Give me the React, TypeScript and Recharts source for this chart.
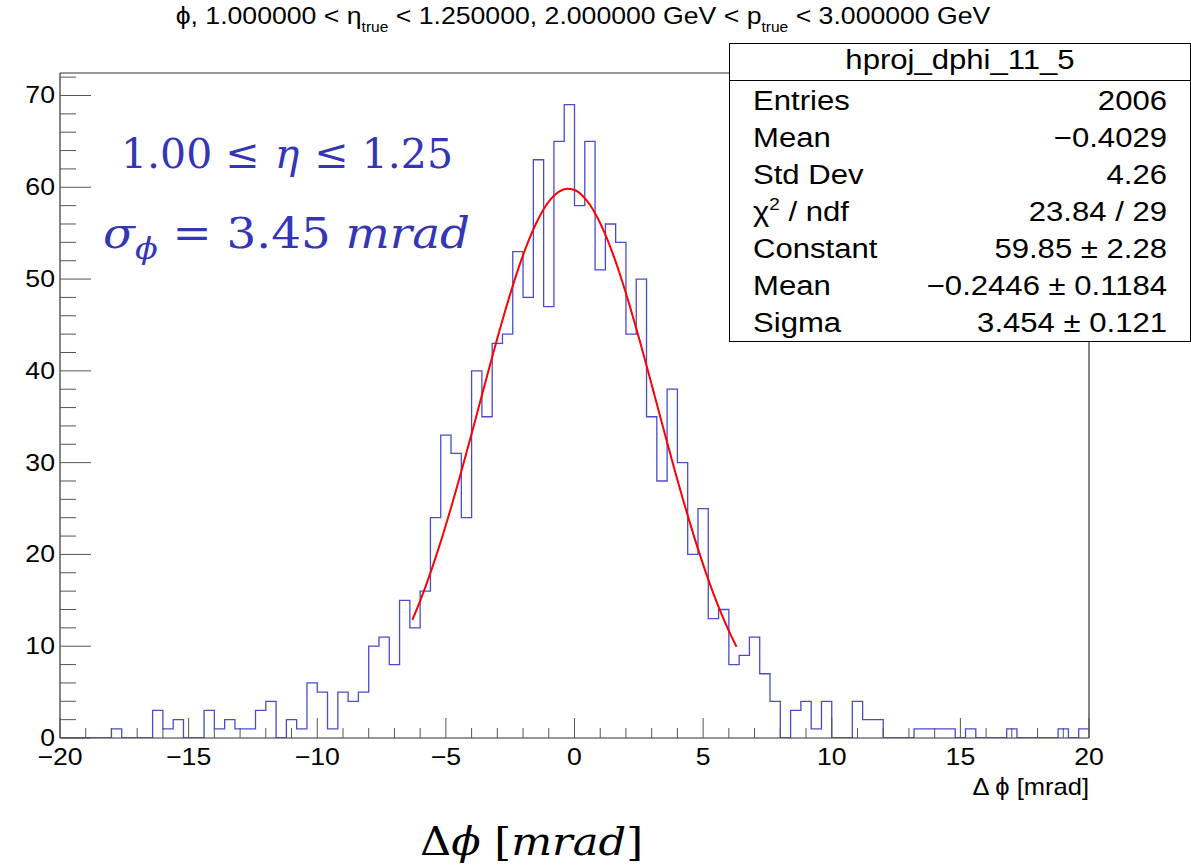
import React from 'react';
import { ComposedChart, Line, XAxis, YAxis, ReferenceLine } from 'recharts';

// ---------- data ----------
const HIST_LOW = -20;
const HIST_HIGH = 20;
const BIN_WIDTH = 0.4;
const COUNTS = [
  0, 0, 0, 0, 0, 1, 0, 0, 0, 3,
  1, 2, 0, 0, 3, 1, 2, 1, 1, 3,
  4, 0, 2, 1, 6, 5, 1, 5, 4, 5,
  10, 11, 8, 15, 12, 16, 24, 33, 31, 24,
  40, 35, 43, 44, 53, 48, 63, 47, 65, 69,
  58, 65, 51, 56, 54, 44, 50, 35, 28, 38,
  30, 20, 25, 13, 14, 8, 9, 11, 7, 4,
  0, 3, 4, 1, 4, 0, 0, 4, 2, 2,
  0, 0, 0, 1, 1, 1, 1, 0, 1, 0,
  0, 0, 1, 0, 0, 0, 0, 1, 0, 1,
];
const FIT_X = [
  -6.3, -6.0, -5.7, -5.4, -5.1, -4.8, -4.5, -4.2, -3.9, -3.6, -3.3, -3.0, -2.7, -2.4, -2.1,
  -1.8, -1.5, -1.2, -0.9, -0.6, -0.3, 0.0, 0.3, 0.6, 0.9, 1.2, 1.5, 1.8, 2.1, 2.4, 2.7,
  3.0, 3.3, 3.6, 3.9, 4.2, 4.5, 4.8, 5.1, 5.4, 5.7, 6.0, 6.3,
];
const FIT_Y = [
  12.87, 14.93, 17.2, 19.65, 22.28, 25.08, 28.02, 31.07, 34.19, 37.34, 40.47, 43.54, 46.49, 49.26, 51.81,
  54.08, 56.03, 57.61, 58.79, 59.53, 59.84, 59.7, 59.11, 58.09, 56.65, 54.84, 52.68, 50.23, 47.53, 44.64, 41.61,
  38.5, 35.35, 32.21, 29.13, 26.15, 23.3, 20.6, 18.08, 15.74, 13.61, 11.68, 9.94,
];
const X_TICKS = [
  -20, -19, -18, -17, -16, -15, -14, -13, -12, -11, -10, -9, -8, -7, -6, -5, -4, -3, -2, -1,
  0, 1, 2, 3, 4, 5, 6, 7, 8, 9, 10, 11, 12, 13, 14, 15, 16, 17, 18, 19, 20,
];
const X_LABELS = [-20, -15, -10, -5, 0, 5, 10, 15, 20];
const Y_TICKS = [0, 2, 4, 6, 8, 10, 12, 14, 16, 18, 20, 22, 24, 26, 28, 30, 32, 34, 36, 38, 40, 42, 44, 46, 48, 50, 52, 54, 56, 58, 60, 62, 64, 66, 68, 70, 72];
const Y_LABELS = [0, 10, 20, 30, 40, 50, 60, 70];
const Y_MAX = 72.45;

const STATS_TITLE = 'hproj_dphi_11_5';
const STATS_LABELS = ['Entries', 'Mean', 'Std Dev', 'CHI2', 'Constant', 'Mean', 'Sigma'];
const STATS_VALUES = ['2006', '\u22120.4029', '4.26', '23.84 / 29', '59.85 \u00b1 2.28', '\u22120.2446 \u00b1 0.1184', '3.454 \u00b1 0.121'];

// ---------- style ----------
const FONT = "'Liberation Sans', Arial, Helvetica, sans-serif";
const SERIF = "'DejaVu Serif', serif";
const SX = 1.11;
const AXIS = '#333';
const TICK = '#555';
const HIST_COLOR = '#4b4bcc';
const NOTE_COLOR = '#3535b8';

const histData = COUNTS.map((c, i) => ({ x: HIST_LOW + i * BIN_WIDTH, count: c })).concat([
  { x: HIST_HIGH, count: COUNTS[COUNTS.length - 1] },
]);
const fitData = FIT_X.map((x, i) => ({ x, fit: FIT_Y[i] }));

const fmt = (v: number) => (v < 0 ? '\u2212' + String(-v) : String(v));

function XTick(props: any) {
  const { x, y, payload } = props;
  const v = payload.value;
  const major = X_LABELS.includes(v);
  return (
    <g>
      <line x1={x} x2={x} y1={y} y2={y - (major ? 20 : 10)} stroke={TICK} strokeWidth={1} />
      {major && (
        <text
          transform={`translate(${x},${y + 27}) scale(${SX},1)`}
          textAnchor="middle"
          fontFamily={FONT}
          fontSize={24}
          fill="#000"
        >
          {fmt(v)}
        </text>
      )}
    </g>
  );
}

function YTick(props: any) {
  const { x, y, payload } = props;
  const v = payload.value;
  const major = Y_LABELS.includes(v);
  return (
    <g>
      <line x1={x} x2={x + (major ? 31 : 16)} y1={y} y2={y} stroke={TICK} strokeWidth={1} />
      {major && (
        <text
          transform={`translate(${x - 5},${y + 8}) scale(${SX},1)`}
          textAnchor="end"
          fontFamily={FONT}
          fontSize={24}
          fill="#000"
        >
          {fmt(v)}
        </text>
      )}
    </g>
  );
}

const ROW_Y = [110, 147, 184, 221, 258, 295, 332];

function Overlay() {
  return (
    <svg
      width={1191}
      height={865}
      style={{ position: 'absolute', left: 0, top: 0, pointerEvents: 'none' }}
    >
      {/* title */}
      <text transform={`translate(583,24) scale(${SX},1)`} textAnchor="middle" fontFamily={FONT} fontSize={24} fill="#000">
        {'\u03d5, 1.000000 < \u03b7'}
        <tspan fontSize={14} dy={8}>true</tspan>
        <tspan dy={-8}>{' < 1.250000, 2.000000 GeV < p'}</tspan>
        <tspan fontSize={14} dy={8}>true</tspan>
        <tspan dy={-8}>{' < 3.000000 GeV'}</tspan>
      </text>

      {/* stats box */}
      <rect x={729.5} y={43.5} width={461} height={298} fill="#fff" stroke="#000" strokeWidth={1} />
      <line x1={729.5} x2={1191} y1={80.5} y2={80.5} stroke="#000" strokeWidth={1} />
      <text transform={`translate(960,69) scale(${SX},1)`} textAnchor="middle" fontFamily={FONT} fontSize={28} fill="#000">
        {STATS_TITLE}
      </text>
      {STATS_LABELS.map((lab, i) => (
        <g key={i}>
          <text transform={`translate(753,${ROW_Y[i]}) scale(${SX},1)`} fontFamily={FONT} fontSize={28} fill="#000">
            {lab === 'CHI2' ? (
              <>
                {'\u03c7'}
                <tspan fontSize={17} dy={-11}>2</tspan>
                <tspan dy={11}>{' / ndf'}</tspan>
              </>
            ) : (
              lab
            )}
          </text>
          <text transform={`translate(1167,${ROW_Y[i]}) scale(${SX},1)`} textAnchor="end" fontFamily={FONT} fontSize={28} fill="#000">
            {STATS_VALUES[i]}
          </text>
        </g>
      ))}

      {/* x axis title */}
      <text transform={`translate(1089,795) scale(${SX},1)`} textAnchor="end" fontFamily={FONT} fontSize={23} fill="#000">
        {'\u0394 \u03d5 [mrad]'}
      </text>

      {/* annotations */}
      <text x={287} y={168} textAnchor="middle" fontFamily={SERIF} fontSize={41} fill={NOTE_COLOR}>
        {'1.00 \u2264 '}
        <tspan fontStyle="italic" dx={2}>{'\u03b7'}</tspan>
        <tspan dx={2}>{' \u2264 1.25'}</tspan>
      </text>
      <text x={103} y={248} textLength={367} lengthAdjust="spacingAndGlyphs" fontFamily={SERIF} fontSize={42} fill={NOTE_COLOR}>
        <tspan fontStyle="italic">{'\u03c3'}</tspan>
        <tspan fontStyle="italic" fontSize={30} dy={11}>{'\u03d5'}</tspan>
        <tspan dy={-11}>{' = 3.45 '}</tspan>
        <tspan fontStyle="italic">mrad</tspan>
      </text>
      <text x={420} y={855} textLength={223} lengthAdjust="spacingAndGlyphs" fontFamily={SERIF} fontSize={40} fill="#000">
        {'\u0394'}
        <tspan fontStyle="italic">{'\u03d5'}</tspan>
        {' ['}
        <tspan fontStyle="italic">mrad</tspan>
        {']'}
      </text>
    </svg>
  );
}

export default function App() {
  return (
    <div style={{ position: 'absolute', left: 0, top: 0, width: 1191, height: 865, background: '#fff' }}>
      <ComposedChart width={1191} height={865} margin={{ top: 73, right: 102, bottom: 0, left: 0 }}>
        <XAxis
          dataKey="x"
          type="number"
          domain={[HIST_LOW, HIST_HIGH]}
          ticks={X_TICKS}
          interval={0}
          allowDataOverflow
          height={127}
          tickLine={false}
          tickSize={0}
          tickMargin={0}
          axisLine={{ stroke: AXIS, strokeWidth: 1.2 }}
          tick={(p: any) => <XTick {...p} />}
        />
        <YAxis
          type="number"
          domain={[0, Y_MAX]}
          ticks={Y_TICKS}
          interval={0}
          allowDataOverflow
          width={60}
          tickLine={false}
          tickSize={0}
          tickMargin={0}
          axisLine={{ stroke: AXIS, strokeWidth: 1.2 }}
          tick={(p: any) => <YTick {...p} />}
        />
        <ReferenceLine y={Y_MAX} stroke={AXIS} strokeWidth={1.2} />
        <ReferenceLine x={HIST_HIGH} stroke={AXIS} strokeWidth={1.2} />
        <Line
          data={histData}
          dataKey="count"
          type="stepAfter"
          stroke={HIST_COLOR}
          strokeWidth={1.3}
          dot={false}
          activeDot={false}
          isAnimationActive={false}
        />
        <Line
          data={fitData}
          dataKey="fit"
          type="monotone"
          stroke="#ff0000"
          strokeWidth={2}
          dot={false}
          activeDot={false}
          isAnimationActive={false}
        />
      </ComposedChart>
      <Overlay />
    </div>
  );
}
